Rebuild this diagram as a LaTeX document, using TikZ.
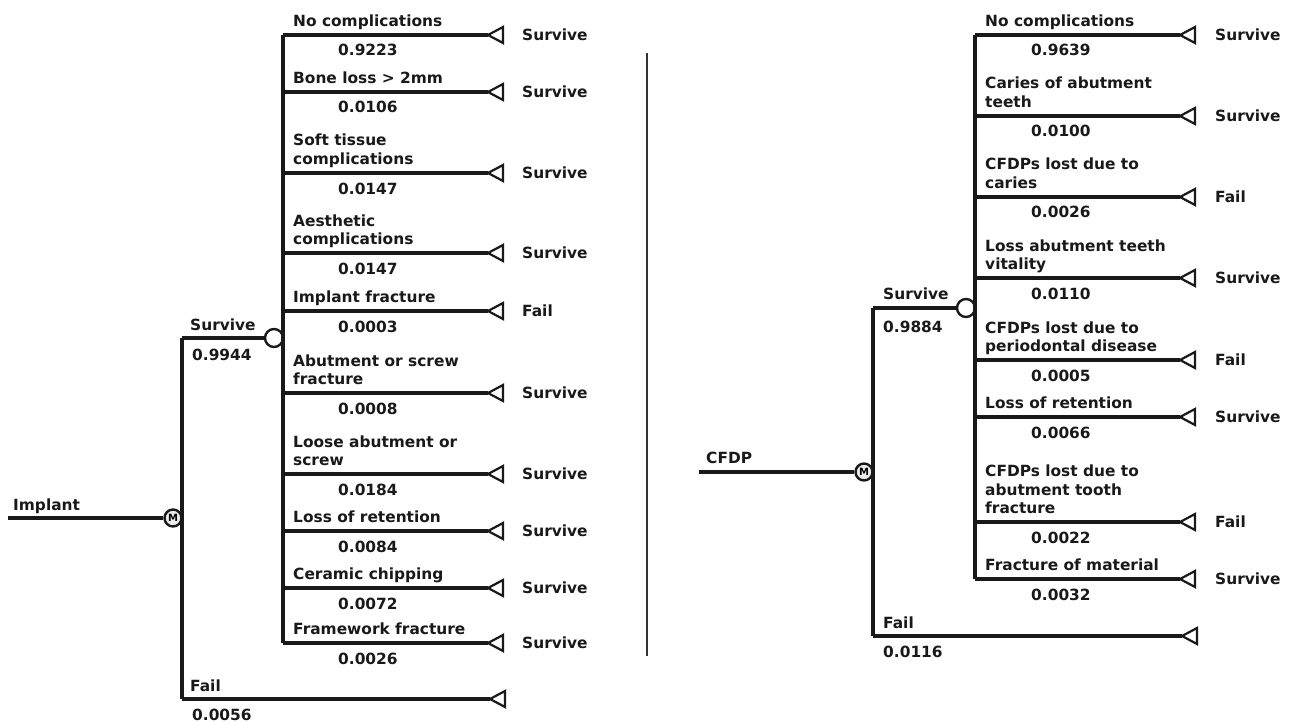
\documentclass[tikz,border=0pt]{standalone}
\usepackage{fontspec}
\setmainfont{DejaVu Sans}
\newcommand\lbl[1]{\begin{tabular}[b]{@{}l@{}}#1\end{tabular}}
\tikzset{
  txt/.style={inner sep=0pt, anchor=base west, text=black!90,
    font=\fontsize{15.4}{18.5}\selectfont\bfseries},
  branch/.style={line width=3.4pt, black!90},
  chance/.style={circle, draw=black!90, fill=white, minimum size=18pt, inner sep=0pt, line width=2.4pt},
  markov/.style={circle, draw=black!90, fill=black!8, minimum size=17pt, inner sep=0pt, line width=2.4pt,
    font=\fontsize{10}{10}\selectfont\bfseries},
  termtri/.style={draw=black!90, fill=white, line width=2.2pt, line join=miter},
  sep/.style={line width=1.8pt, black!80}
}
\begin{document}
\begin{tikzpicture}[x=1pt,y=-1pt]
\useasboundingbox (0,0) rectangle (1292,722);

%% ---------------- Left tree: Implant ----------------
\coordinate (iStart) at (8,518);
\node[markov] (iM) at (173,518) {M};
\draw[branch] (iStart) -- (iM.west);
\node[txt] (iLab) at (13,510) {Implant};
\coordinate (iTop) at (182,338);
\coordinate (iBot) at (182,699);
\draw[branch] (iTop) -- (iBot);
\node[chance] (iC) at (274,338) {};
\draw[branch] (iTop) -- (iC.west);
\node[txt] (iSurv) at (190,330) {Survive};
\node[txt] (iSurvP) at (192,360) {0.9944};
\coordinate (iV1) at (283,35);
\coordinate (iV2) at (283,643);
\draw[branch] (iV1) -- (iV2);

\foreach \y/\l/\v/\o [count=\i] in {
  35/{No complications}/0.9223/Survive,
  92/{Bone loss > 2mm}/0.0106/Survive,
  173/{Soft tissue\\complications}/0.0147/Survive,
  253/{Aesthetic\\complications}/0.0147/Survive,
  311/{Implant fracture}/0.0003/Fail,
  393/{Abutment or screw\\fracture}/0.0008/Survive,
  474/{Loose abutment or\\screw}/0.0184/Survive,
  531/{Loss of retention}/0.0084/Survive,
  588/{Ceramic chipping}/0.0072/Survive,
  643/{Framework fracture}/0.0026/Survive}{
  \coordinate (iB\i) at (283,\y);
  \coordinate (iT\i) at (488,\y);
  \draw[branch] (iB\i) -- (iT\i);
  \draw[termtri] (iT\i) -- ++(15,-8) -- ++(0,16) -- cycle;
  \node[txt] (iL\i) at (293,\y-8.5) {\lbl{\l}};
  \node[txt] (iP\i) at (338,\y+21) {\v};
  \node[txt] (iO\i) at (522,\y+5.5) {\o};
}

\coordinate (iFT) at (490,699);
\draw[branch] (iBot) -- (iFT);
\draw[termtri] (iFT) -- ++(15,-8) -- ++(0,16) -- cycle;
\node[txt] (iFail) at (190,691) {Fail};
\node[txt] (iFailP) at (192,720) {0.0056};

%% ---------------- Separator ----------------
\coordinate (sTop) at (647,53);
\coordinate (sBot) at (647,656);
\draw[sep] (sTop) -- (sBot);

%% ---------------- Right tree: CFDP ----------------
\coordinate (cStart) at (699,472);
\node[markov] (cM) at (864,472) {M};
\draw[branch] (cStart) -- (cM.west);
\node[txt] (cLab) at (706,463) {CFDP};
\coordinate (cTop) at (873,308);
\coordinate (cBot) at (873,636);
\draw[branch] (cTop) -- (cBot);
\node[chance] (cC) at (966,308) {};
\draw[branch] (cTop) -- (cC.west);
\node[txt] (cSurv) at (883,299.5) {Survive};
\node[txt] (cSurvP) at (883,332) {0.9884};
\coordinate (cV1) at (975,35);
\coordinate (cV2) at (975,579);
\draw[branch] (cV1) -- (cV2);

\foreach \y/\l/\v/\o [count=\i] in {
  35/{No complications}/0.9639/Survive,
  116/{Caries of abutment\\teeth}/0.0100/Survive,
  197/{CFDPs lost due to\\caries}/0.0026/Fail,
  278/{Loss abutment teeth\\vitality}/0.0110/Survive,
  360/{CFDPs lost due to\\periodontal disease}/0.0005/Fail,
  417/{Loss of retention}/0.0066/Survive,
  522/{CFDPs lost due to\\abutment tooth\\fracture}/0.0022/Fail,
  579/{Fracture of material}/0.0032/Survive}{
  \coordinate (cB\i) at (975,\y);
  \coordinate (cT\i) at (1180,\y);
  \draw[branch] (cB\i) -- (cT\i);
  \draw[termtri] (cT\i) -- ++(15,-8) -- ++(0,16) -- cycle;
  \node[txt] (cL\i) at (985,\y-8.5) {\lbl{\l}};
  \node[txt] (cP\i) at (1031,\y+21) {\v};
  \node[txt] (cO\i) at (1215,\y+5.5) {\o};
}

\coordinate (cFT) at (1182,636);
\draw[branch] (cBot) -- (cFT);
\draw[termtri] (cFT) -- ++(15,-8) -- ++(0,16) -- cycle;
\node[txt] (cFail) at (883,628) {Fail};
\node[txt] (cFailP) at (883,657) {0.0116};
\end{tikzpicture}
\end{document}
